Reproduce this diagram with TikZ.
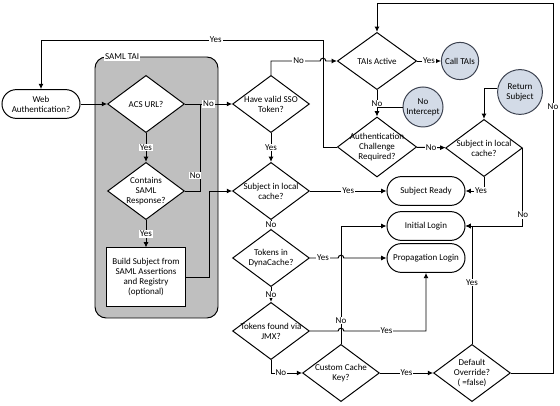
\documentclass[tikz,border=0pt]{standalone}
\usepackage{fontspec}
\setmainfont{Carlito}
\usepackage{tikz}
\usetikzlibrary{arrows.meta}
\usetikzlibrary{shapes.geometric}
\usetikzlibrary{calc}

\definecolor{taigray}{RGB}{191,191,191}
\definecolor{bubblefill}{RGB}{211,219,231}
\definecolor{bubbleline}{RGB}{60,66,80}

\tikzset{
  decision/.style={diamond, draw, line width=0.7pt, fill=white, minimum width=1.92cm, minimum height=1.43cm, inner sep=0pt},
  terminal/.style={draw, line width=0.7pt, fill=white, rounded corners=0.36cm, minimum width=1.95cm, minimum height=0.72cm},
  process/.style={draw, line width=0.7pt, fill=white, minimum width=1.95cm, minimum height=1.45cm},
  bubble/.style={circle, draw=bubbleline, line width=0.7pt, fill=bubblefill, inner sep=0pt},
  flow/.style={-{Latex[length=3.8pt,width=3.6pt]}, line width=0.7pt},
  plain/.style={line width=0.7pt},
  lbl/.style={fill=white, inner sep=0.6pt}
}

\begin{document}
\begin{tikzpicture}[x=0.025cm, y=-0.025cm, font=\fontsize{6.4}{7.1}\selectfont, every node/.append style={align=center}]
\useasboundingbox (0,0) rectangle (560,406);

\draw [plain, fill=taigray, rounded corners=0.28cm] (95,57) rectangle (218,318);
\node [lbl, anchor=west] (tailbl) at (104,57) {SAML TAI};

\node [terminal] (web) at (41,104) {Web\\Authentication?};
\node [decision, label={center:ACS URL?}] (acs) at (146,104) {};
\node [decision, label={center:Contains\\SAML\\Response?}] (saml) at (146,191) {};
\node [process] (build) at (146,277) {Build Subject from\\SAML Assertions\\and Registry\\(optional)};

\node [decision, label={center:Have valid SSO\\Token?}] (sso) at (271,104) {};
\node [decision, label={center:Subject in local\\cache?}] (subj) at (271,191) {};
\node [decision, label={center:Tokens in\\DynaCache?}] (dyna) at (271,258) {};
\node [decision, label={center:Tokens found via\\JMX?}] (jmx) at (271,331) {};
\node [decision, label={center:Custom Cache\\Key?}] (cck) at (341,373) {};
\node [decision, label={center:Default\\Override?\\( =false)}] (dflt) at (472,373) {};

\node [decision, minimum width=1.98cm, label={center:TAIs Active}] (tais) at (377,61) {};
\node [decision, minimum width=1.98cm, minimum height=1.5cm, label={center:Authentication\\Challenge\\Required?}] (authc) at (377,147) {};
\node [decision, label={center:Subject in local\\cache?}] (subjr) at (484,148) {};

\node [terminal] (ready) at (426,191) {Subject Ready};
\node [terminal] (init) at (426,226) {Initial Login};
\node [terminal] (prop) at (426,258) {Propagation Login};

\node [bubble, minimum size=0.93cm] (calltai) at (460,61) {Call TAIs};
\node [bubble, minimum size=1cm] (noint) at (423,107) {No\\Intercept};
\node [bubble, minimum size=1.12cm] (retsub) at (520,92) {Return\\Subject};

\coordinate (acsjoin) at (200,104);
\coordinate (backtop) at (323,40);
\coordinate (hopa) at (323,61);
\coordinate (hopb) at (341,258);
\coordinate (hopc) at (341,331);
\coordinate (righttop) at (553,3);

% SAML TAI
\draw [flow] (web) -- (acs);
\draw [flow] (acs) -- node[lbl]{Yes} (saml);
\draw [flow] (saml) -- node[lbl]{Yes} (build);
\draw [plain] (saml.east) -| node[lbl, pos=0.59, xshift=-0.12cm]{No} (acsjoin);
\draw [flow] (acs) -- node[lbl]{No} (sso);
\draw [flow] (build.east) -- ++(24,0) |- (subj.west);

% SSO and TAIs
\draw [flow] (sso.north) |- node[lbl, pos=0.78]{No} ([xshift=-0.07cm]hopa) arc[start angle=180, end angle=0, radius=0.07cm] -- (tais.west);
\draw [flow] (sso) -- node[lbl]{Yes} (subj);
\draw [flow] (tais) -- node[lbl]{Yes} (calltai);
\draw [plain] (noint.west) -- (noint.west -| tais.south);
\draw [flow] (tais) -- node[lbl]{No} (authc);
\draw [flow] (authc.west) -| (backtop) -| node[lbl, pos=0.19]{Yes} (web.north);
\draw [flow] (authc) -- node[lbl]{No} (subjr);
\draw [flow] (retsub.170) -| (subjr.north);
\draw [flow] (subjr.south) |- node[lbl, pos=0.58]{Yes} (ready.east);
\draw [flow] (subjr.east) |- node[lbl, pos=0.43]{No} (init.east);

% cache lookups
\draw [flow] (subj) -- node[lbl]{Yes} (ready);
\draw [flow] (subj) -- node[lbl]{No} (dyna);
\draw [flow] (cck.north) |- node[lbl, pos=0.1]{No} (init.west);
\draw [flow] (dyna.east) -- node[lbl, pos=0.46]{Yes} ([xshift=-0.07cm]hopb) arc[start angle=180, end angle=0, radius=0.07cm] -- (prop.west);
\draw [flow] (dyna) -- node[lbl]{No} (jmx);
\draw [flow] (jmx.east) -- ([xshift=-0.07cm]hopc) arc[start angle=180, end angle=0, radius=0.07cm] -| node[lbl, pos=0.26]{Yes} (prop.south);
\draw [flow] (jmx.south) |- node[lbl, pos=0.66]{No} (cck.west);
\draw [flow] (cck) -- node[lbl]{Yes} (dflt);
\draw [flow] (dflt.north) |- node[lbl, pos=0.26]{Yes} (init.east);
\draw [flow] (dflt.east) -| node[lbl, pos=0.86]{No} (righttop) -| (tais.north);
\end{tikzpicture}
\end{document}
